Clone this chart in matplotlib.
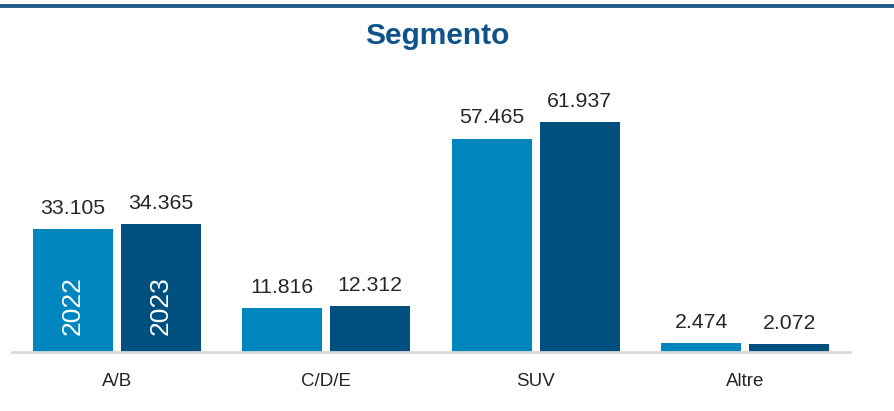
import numpy as np
import matplotlib.pyplot as plt
from matplotlib.lines import Line2D

plt.rcParams['font.family'] = ['Liberation Sans', 'DejaVu Sans']

# data
categories = ['A/B', 'C/D/E', 'SUV', 'Altre']
years = ['2022', '2023']
vals_2022 = [33.105, 11.816, 57.465, 2.474]
vals_2023 = [34.365, 12.312, 61.937, 2.072]

c_light = '#0086BF'
c_dark = '#00507F'

fig = plt.figure(figsize=(8.94, 4.11), dpi=100)
ax = fig.add_axes([12/894, 59/411, 838/894, 292/411])

x = np.arange(len(categories))
w = 0.382
off = 0.21
b1 = ax.bar(x - off, vals_2022, w, color=c_light)
b2 = ax.bar(x + off, vals_2023, w, color=c_dark)

def fmt(v):
    return f'{v:.3f}'

for bars, vals in [(b1, vals_2022), (b2, vals_2023)]:
    for rect, v in zip(bars, vals):
        ax.annotate(fmt(v), (rect.get_x() + rect.get_width()/2, rect.get_height()),
                    xytext=(0, 8), textcoords='offset points',
                    ha='center', va='bottom', fontsize=15.3, color='#262626')

# year labels inside first group
ax.text(x[0] - off, 12.4, years[0], rotation=90, ha='center', va='center',
        color='white', fontsize=19)
ax.text(x[0] + off, 12.4, years[1], rotation=90, ha='center', va='center',
        color='white', fontsize=19)

ax.set_xlim(-0.5, 3.5)
ax.set_ylim(0, 78.6)
ax.set_xticks(x)
ax.set_xticklabels(categories, fontsize=13.5, color='#262626')
ax.tick_params(axis='x', length=0, pad=15)
ax.set_yticks([])
for s in ['top', 'right', 'left']:
    ax.spines[s].set_visible(False)
ax.spines['bottom'].set_color('#D9D9D9')
ax.spines['bottom'].set_linewidth(2)

# top line and title
fig.add_artist(Line2D([0, 1], [1 - 6/411, 1 - 6/411], color='#1F5B8C', lw=2.8,
                      transform=fig.transFigure))
fig.text(437/894, 1 - 36/411, 'Segmento', ha='center', va='center',
         fontsize=21.5, fontweight='bold', color='#0F5388')

fig.savefig('out.png', dpi=100)
